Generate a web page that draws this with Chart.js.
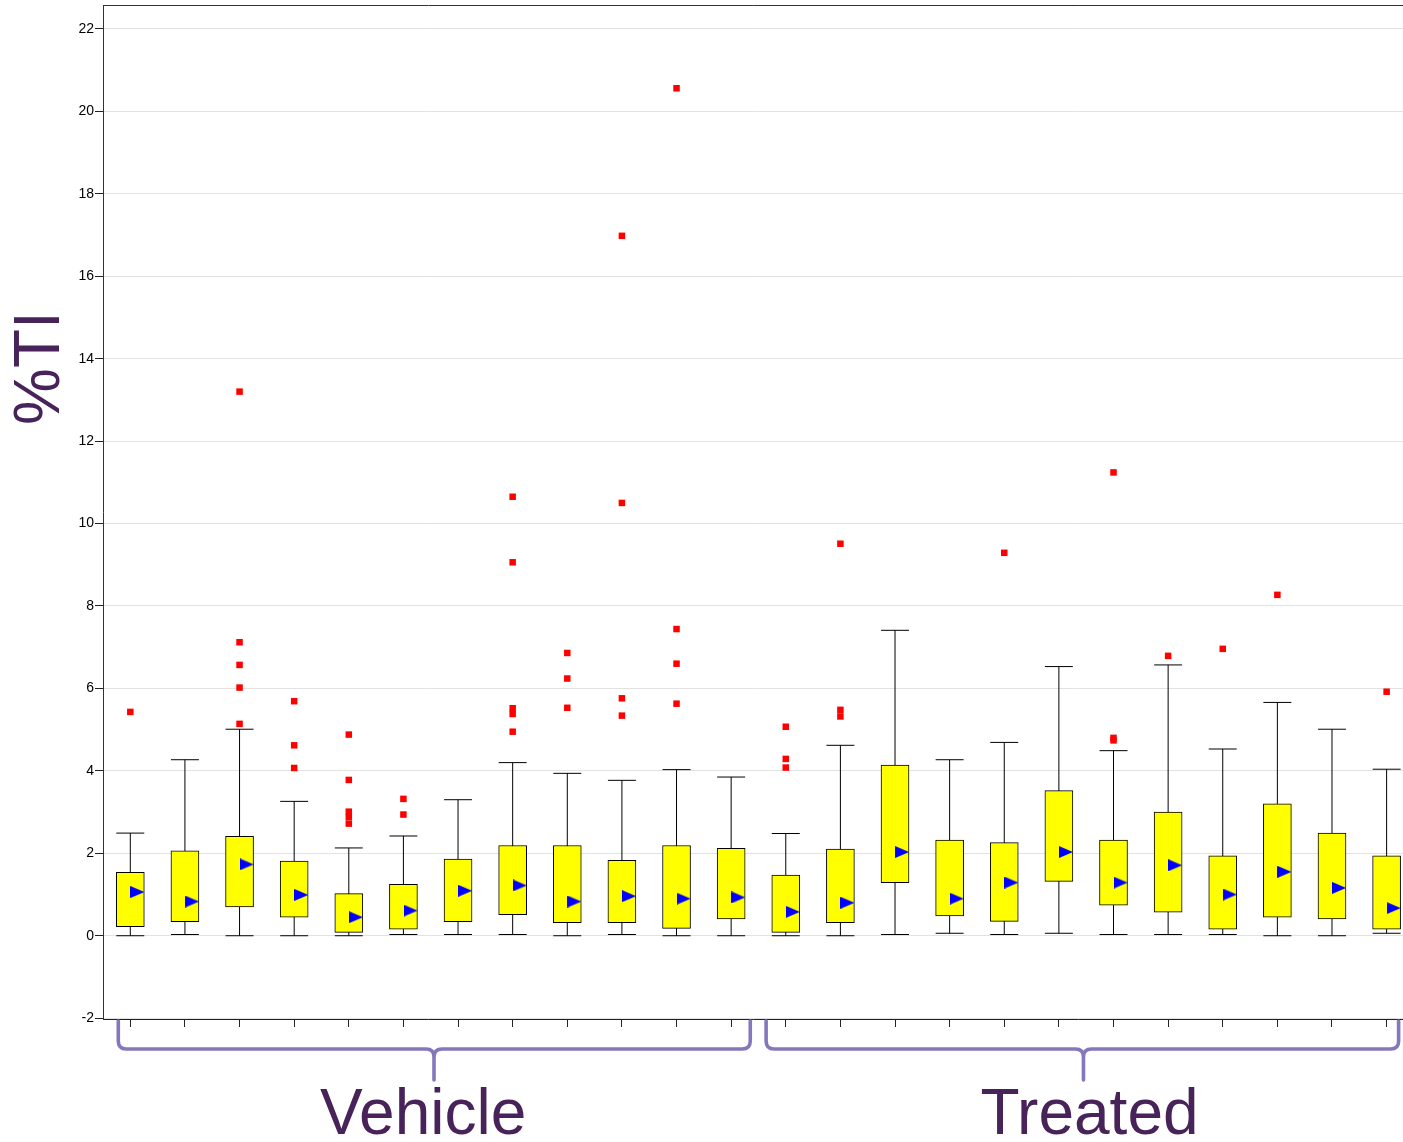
<!DOCTYPE html>
<html>
<head>
<meta charset="utf-8">
<script src="https://cdn.jsdelivr.net/npm/chart.js@4.4.1/dist/chart.umd.min.js"></script>
<style>
html,body{margin:0;padding:0;background:#fff;overflow:hidden;}
canvas{display:block;}
</style>
</head>
<body>
<canvas id="c" width="1403" height="1142"></canvas>
<script>
// ---- data ----
const categories = ['V1','V2','V3','V4','V5','V6','V7','V8','V9','V10','V11','V12',
                    'T1','T2','T3','T4','T5','T6','T7','T8','T9','T10','T11','T12'];
const groupNames = ['Vehicle','Treated'];
const groupSize = 12;
const yTicks = [-2,0,2,4,6,8,10,12,14,16,18,20,22];
const mins  = [0,0.03,0,0,0,0.03,0.03,0.03,0,0.03,0,0,  0,0,0.03,0.06,0.03,0.06,0.03,0.03,0.03,0,0,0.06];
const q1s   = [0.22,0.34,0.70,0.45,0.08,0.16,0.34,0.51,0.32,0.32,0.18,0.41,  0.08,0.32,1.29,0.48,0.35,1.32,0.74,0.57,0.16,0.45,0.41,0.16];
const q3s   = [1.54,2.06,2.41,1.81,1.02,1.25,1.86,2.19,2.19,1.83,2.19,2.12,  1.47,2.10,4.14,2.32,2.26,3.52,2.32,3.00,1.94,3.20,2.49,1.94];
const maxs  = [2.49,4.27,5.01,3.26,2.13,2.42,3.30,4.20,3.94,3.77,4.03,3.85,  2.48,4.62,7.41,4.27,4.69,6.53,4.49,6.57,4.53,5.66,5.01,4.04];
const means = [1.06,0.83,1.73,0.99,0.45,0.61,1.09,1.22,0.83,0.96,0.90,0.93,  0.58,0.80,2.03,0.90,1.29,2.03,1.29,1.71,1.00,1.55,1.16,0.67];
const outliers = [
  [5.43],[],[13.2,7.12,6.57,6.02,5.14],[5.69,4.62,4.07],[4.88,3.78,3.01,2.88,2.72],[3.32,2.94],
  [],[10.65,9.06,5.52,5.38,4.95],[6.86,6.24,5.53],[16.98,10.5,5.76,5.34],[20.56,7.44,6.6,5.63],[],
  [5.07,4.29,4.08],[9.51,5.48,5.32],[],[],[9.29],[],[11.24,4.8,4.74],[6.79],[6.96],[8.27],[],[5.92]
];

// ---- build datasets ----
const pos = categories.map((_, i) => i + 1);
const capHalf = 0.256;
const meanOffset = 0.13;

const boxData = pos.map((x, i) => ({x: x, y: [q1s[i], q3s[i]]}));
const whiskerData = [];
pos.forEach((x, i) => {
  whiskerData.push({x: x, y: mins[i]}, {x: x, y: maxs[i]}, {x: x, y: null});
  whiskerData.push({x: x - capHalf, y: maxs[i]}, {x: x + capHalf, y: maxs[i]}, {x: x, y: null});
  whiskerData.push({x: x - capHalf, y: mins[i]}, {x: x + capHalf, y: mins[i]}, {x: x, y: null});
});
const meanData = pos.map((x, i) => ({x: x + meanOffset, y: means[i]}));
const outlierData = [];
pos.forEach((x, i) => outliers[i].forEach(v => outlierData.push({x: x, y: v})));

// right-pointing triangle marker
const tri = document.createElement('canvas');
tri.width = 14; tri.height = 12;
(function(){ const g = tri.getContext('2d'); g.fillStyle = '#0000ff';
  g.beginPath(); g.moveTo(0,0); g.lineTo(14,6); g.lineTo(0,12); g.closePath(); g.fill(); })();

const TEXT_PURPLE = '#48235a';
const BRACKET = '#8677bd';

const decor = {
  id: 'decor',
  afterDraw(chart) {
    const ctx = chart.ctx, xs = chart.scales.x, a = chart.chartArea;
    ctx.save();
    // frame
    ctx.strokeStyle = '#333'; ctx.lineWidth = 1;
    ctx.beginPath(); ctx.moveTo(a.left + 0.5, a.top + 0.5); ctx.lineTo(a.right, a.top + 0.5); ctx.stroke();
    // brackets
    const yTop = a.bottom + 2, yH = a.bottom + 30, yBot = a.bottom + 61, r = 8;
    const groups = [[0.78, 6.56, 12.35], [12.64, 18.45, 24.22]];
    ctx.strokeStyle = BRACKET; ctx.lineWidth = 3.6; ctx.lineCap = 'round'; ctx.lineJoin = 'round';
    groups.forEach(g => {
      const xl = xs.getPixelForValue(g[0]), xc = xs.getPixelForValue(g[1]), xr = xs.getPixelForValue(g[2]);
      ctx.beginPath();
      ctx.moveTo(xl, yTop);
      ctx.lineTo(xl, yH - r);
      ctx.quadraticCurveTo(xl, yH, xl + r, yH);
      ctx.lineTo(xc - r, yH);
      ctx.quadraticCurveTo(xc, yH, xc, yH + r);
      ctx.lineTo(xc, yBot);
      ctx.moveTo(xc, yH + r);
      ctx.quadraticCurveTo(xc, yH, xc + r, yH);
      ctx.lineTo(xr - r, yH);
      ctx.quadraticCurveTo(xr, yH, xr, yH - r);
      ctx.lineTo(xr, yTop);
      ctx.stroke();
    });
    // group labels
    ctx.fillStyle = TEXT_PURPLE;
    ctx.font = '64px "Liberation Sans", Arial, sans-serif';
    ctx.textAlign = 'center'; ctx.textBaseline = 'alphabetic';
    const labelPos = [6.36, 18.56];
    groupNames.forEach((n, i) => ctx.fillText(n, xs.getPixelForValue(labelPos[i]), a.bottom + 115));
    // y title
    ctx.translate(41, 368);
    ctx.rotate(-Math.PI / 2);
    ctx.textBaseline = 'middle';
    ctx.fillText('%TI', 0, 0);
    ctx.restore();
  }
};

new Chart(document.getElementById('c'), {
  type: 'bar',
  data: {
    datasets: [
      {type: 'scatter', label: 'outliers', data: outlierData, pointStyle: 'rect', pointRadius: 4.6,
       backgroundColor: '#ff0000', borderColor: '#ff0000', borderWidth: 0, order: 0},
      {type: 'scatter', label: 'mean', data: meanData, pointStyle: tri, pointRadius: 7, order: 1},
      {type: 'bar', label: 'box', data: boxData, backgroundColor: '#ffff00', borderColor: '#000',
       borderWidth: 1, borderSkipped: false, barThickness: 28, order: 2},
      {type: 'line', label: 'whiskers', data: whiskerData, borderColor: '#000', borderWidth: 1,
       pointRadius: 0, spanGaps: false, tension: 0, fill: false, order: 3}
    ]
  },
  options: {
    responsive: false,
    animation: false,
    devicePixelRatio: 1,
    layout: {autoPadding: false, padding: {top: 5, right: 0, left: 0, bottom: 0}},
    plugins: {legend: {display: false}, tooltip: {enabled: false}},
    scales: {
      x: {
        type: 'linear', min: 0.5, max: 24.3, offset: false,
        afterBuildTicks: s => { s.ticks = pos.map(v => ({value: v})); },
        afterFit: s => { s.height = 123; s.paddingLeft = 0; s.paddingRight = 0; },
        grid: {display: true, offset: false, drawOnChartArea: false, drawTicks: true, tickLength: 8, tickColor: '#222'},
        border: {display: true, color: '#222', width: 1},
        ticks: {callback: () => '', padding: 0}
      },
      y: {
        type: 'linear', min: -2.02, max: 22.58,
        afterBuildTicks: s => { s.ticks = yTicks.map(v => ({value: v})); },
        afterFit: s => { s.width = 103; s.paddingTop = 0; s.paddingBottom = 0; },
        grid: {color: '#e2e2e2', lineWidth: 1, drawTicks: true, tickLength: 8, tickColor: '#222'},
        border: {display: true, color: '#333', width: 1},
        ticks: {color: '#000', padding: 1, font: {family: '"Liberation Sans", Arial, sans-serif', size: 14}}
      }
    }
  },
  plugins: [decor]
});
</script>
</body>
</html>
